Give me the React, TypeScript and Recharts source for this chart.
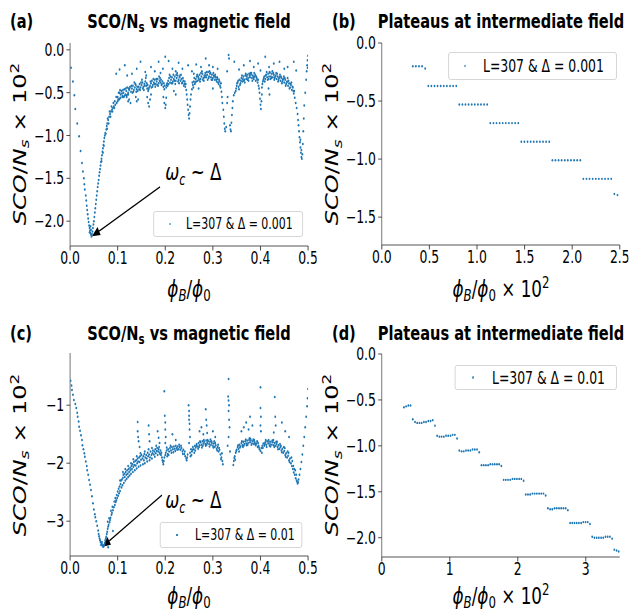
import React from 'react'
import { ScatterChart, Scatter, XAxis, YAxis, ReferenceLine, ReferenceDot } from 'recharts'

type Pt = [number, number]

// ---------- panel (a): L=307, Δ=0.001 ----------
const aLeftBranch: Pt[] = [
  [0.002,-0.21],[0.006,-0.37],[0.009,-0.53],[0.011,-0.69],[0.015,-0.86],[0.019,-1.01],[0.022,-1.18],[0.025,-1.32],
  [0.027,-1.42],[0.029,-1.5],[0.03,-1.57],[0.031,-1.63],[0.033,-1.7],[0.034,-1.76],[0.035,-1.82],[0.036,-1.87],
  [0.037,-1.92],[0.038,-1.97],[0.039,-2.01],[0.04,-2.05],[0.041,-2.08],[0.042,-2.11],[0.043,-2.14],[0.044,-2.16],
  [0.045,-2.18],[0.046,-2.15],[0.044,-2.1],[0.043,-2.06],[0.041,-2.13],
]
const aRightBranch: Pt[] = [
  [0.047,-2.12],[0.048,-2.08],[0.049,-2.04],[0.05,-2.0],[0.051,-1.95],[0.052,-1.9],[0.053,-1.85],[0.054,-1.8],
  [0.055,-1.75],[0.056,-1.7],[0.057,-1.65],[0.058,-1.6],[0.059,-1.56],[0.06,-1.52],[0.061,-1.47],[0.062,-1.43],
  [0.063,-1.39],[0.064,-1.35],[0.065,-1.31],[0.066,-1.27],[0.067,-1.23],[0.068,-1.19],[0.069,-1.15],[0.07,-1.11],
  [0.071,-1.07],[0.072,-1.03],[0.073,-1.0],[0.074,-0.97],[0.076,-0.93],[0.077,-0.89],[0.078,-0.86],[0.08,-0.82],
  [0.082,-0.78],[0.084,-0.75],[0.086,-0.72],[0.088,-0.7],[0.09,-0.68],[0.092,-0.66],[0.095,-0.64],[0.098,-0.62],
  [0.1,-0.6],[0.103,-0.58],[0.106,-0.56],[0.11,-0.55],[0.114,-0.54],[0.118,-0.53],[0.122,-0.52],
  [0.075,-0.98],[0.079,-0.8],[0.083,-0.72],[0.087,-0.66],[0.091,-0.62],[0.094,-0.6],[0.097,-0.55],[0.104,-0.5],
  [0.071,-1.12],[0.069,-1.2],[0.066,-1.3],[0.078,-0.92],[0.081,-0.86],[0.085,-0.78],[0.089,-0.72],[0.093,-0.68],
]
const aBand: Pt[] = [
  [0.100,-0.55],[0.102,-0.50],[0.104,-0.57],[0.106,-0.52],[0.108,-0.48],[0.110,-0.54],[0.112,-0.50],[0.114,-0.46],
  [0.116,-0.52],[0.118,-0.48],[0.120,-0.44],[0.122,-0.50],[0.124,-0.47],[0.126,-0.43],[0.128,-0.49],[0.130,-0.45],
  [0.132,-0.42],[0.134,-0.47],[0.136,-0.44],[0.138,-0.41],[0.140,-0.46],[0.142,-0.48],[0.144,-0.43],[0.146,-0.40],
  [0.148,-0.44],[0.150,-0.41],[0.152,-0.38],[0.154,-0.43],[0.156,-0.40],[0.158,-0.37],[0.160,-0.42],[0.162,-0.45],
  [0.164,-0.48],[0.166,-0.44],[0.168,-0.42],[0.170,-0.39],[0.172,-0.36],[0.174,-0.41],[0.176,-0.38],[0.178,-0.35],
  [0.180,-0.40],[0.182,-0.37],[0.184,-0.34],[0.186,-0.39],[0.188,-0.36],[0.190,-0.38],[0.192,-0.41],[0.194,-0.37],
  [0.196,-0.43],[0.198,-0.46],[0.202,-0.44],[0.204,-0.39],[0.206,-0.36],[0.208,-0.33],[0.210,-0.38],[0.212,-0.35],
  [0.214,-0.32],[0.216,-0.37],[0.218,-0.34],[0.220,-0.31],[0.222,-0.36],[0.224,-0.33],[0.226,-0.30],[0.228,-0.35],
  [0.230,-0.32],[0.232,-0.36],[0.234,-0.34],[0.236,-0.38],[0.238,-0.36],[0.240,-0.40],[0.242,-0.43],[0.244,-0.47],
  [0.256,-0.46],[0.258,-0.41],[0.260,-0.37],[0.262,-0.40],[0.264,-0.34],[0.266,-0.31],[0.268,-0.36],[0.270,-0.33],
  [0.272,-0.29],[0.274,-0.34],[0.276,-0.31],[0.278,-0.28],[0.280,-0.33],[0.282,-0.30],[0.284,-0.27],[0.286,-0.32],
  [0.288,-0.29],[0.290,-0.26],[0.292,-0.31],[0.294,-0.28],[0.296,-0.32],[0.298,-0.29],[0.300,-0.33],[0.302,-0.30],
  [0.304,-0.35],[0.306,-0.32],[0.308,-0.37],[0.310,-0.34],[0.312,-0.40],[0.314,-0.37],[0.316,-0.44],[0.318,-0.49],
  [0.348,-0.48],[0.350,-0.42],[0.352,-0.38],[0.354,-0.43],[0.356,-0.35],[0.358,-0.39],[0.360,-0.33],[0.362,-0.37],
  [0.364,-0.31],[0.366,-0.35],[0.368,-0.30],[0.370,-0.34],[0.372,-0.29],[0.374,-0.33],[0.376,-0.28],[0.378,-0.32],
  [0.380,-0.29],[0.382,-0.33],[0.384,-0.30],[0.386,-0.34],[0.388,-0.31],[0.390,-0.36],[0.392,-0.33],[0.394,-0.38],
  [0.396,-0.42],[0.404,-0.40],[0.406,-0.35],[0.408,-0.31],[0.410,-0.34],[0.412,-0.29],[0.414,-0.32],[0.416,-0.28],
  [0.418,-0.31],[0.420,-0.27],[0.422,-0.31],[0.424,-0.28],[0.426,-0.32],[0.428,-0.29],[0.430,-0.33],[0.432,-0.30],
  [0.434,-0.34],[0.436,-0.31],[0.438,-0.35],[0.440,-0.32],[0.442,-0.36],[0.444,-0.33],[0.446,-0.37],[0.448,-0.34],
  [0.450,-0.38],[0.452,-0.35],[0.454,-0.40],[0.456,-0.37],[0.458,-0.42],[0.460,-0.39],[0.462,-0.44],[0.464,-0.41],
  [0.466,-0.47],[0.468,-0.44],[0.470,-0.51],[0.472,-0.56],[0.474,-0.62],
]
const aBandInner: Pt[] = [
  [0.101,-0.58],[0.105,-0.47],[0.109,-0.51],[0.113,-0.55],[0.117,-0.45],[0.121,-0.52],[0.125,-0.45],[0.129,-0.42],
  [0.133,-0.49],[0.137,-0.40],[0.141,-0.43],[0.145,-0.46],[0.149,-0.38],[0.153,-0.45],[0.157,-0.42],[0.161,-0.39],
  [0.165,-0.46],[0.169,-0.37],[0.173,-0.43],[0.177,-0.40],[0.181,-0.34],[0.185,-0.42],[0.189,-0.33],[0.193,-0.40],
  [0.197,-0.39],[0.203,-0.41],[0.207,-0.40],[0.211,-0.31],[0.215,-0.39],[0.219,-0.36],[0.223,-0.29],[0.227,-0.37],
  [0.231,-0.30],[0.235,-0.39],[0.239,-0.42],[0.243,-0.40],[0.259,-0.44],[0.263,-0.38],[0.267,-0.29],[0.271,-0.35],
  [0.275,-0.27],[0.279,-0.35],[0.283,-0.32],[0.287,-0.26],[0.291,-0.33],[0.295,-0.27],[0.299,-0.35],[0.303,-0.31],
  [0.307,-0.35],[0.311,-0.38],[0.315,-0.42],[0.349,-0.45],[0.353,-0.36],[0.357,-0.41],[0.361,-0.30],[0.365,-0.36],
  [0.369,-0.28],[0.373,-0.35],[0.377,-0.30],[0.381,-0.27],[0.385,-0.32],[0.389,-0.29],[0.393,-0.35],[0.397,-0.45],
  [0.403,-0.44],[0.407,-0.33],[0.411,-0.30],[0.415,-0.35],[0.419,-0.26],[0.423,-0.33],[0.427,-0.27],[0.431,-0.31],
  [0.435,-0.28],[0.439,-0.33],[0.443,-0.31],[0.447,-0.35],[0.451,-0.33],[0.455,-0.38],[0.459,-0.36],[0.463,-0.40],
  [0.467,-0.43],[0.471,-0.48],
]
const aBandOuter: Pt[] = [
  [0.111,-0.47],[0.119,-0.55],[0.123,-0.45],[0.131,-0.50],[0.135,-0.38],[0.139,-0.49],[0.147,-0.47],[0.151,-0.35],
  [0.155,-0.47],[0.159,-0.33],[0.163,-0.41],[0.171,-0.44],[0.175,-0.34],[0.179,-0.43],[0.183,-0.41],[0.187,-0.31],
  [0.191,-0.35],[0.199,-0.42],[0.205,-0.42],[0.209,-0.29],[0.213,-0.39],[0.217,-0.29],[0.221,-0.40],[0.225,-0.27],
  [0.229,-0.39],[0.233,-0.29],[0.237,-0.33],[0.241,-0.37],[0.257,-0.38],[0.261,-0.33],[0.265,-0.37],[0.269,-0.31],
  [0.273,-0.37],[0.277,-0.25],[0.281,-0.36],[0.285,-0.30],[0.289,-0.35],[0.293,-0.25],[0.297,-0.35],[0.301,-0.27],
  [0.305,-0.29],[0.309,-0.32],[0.313,-0.35],[0.317,-0.39],[0.351,-0.39],[0.355,-0.46],[0.359,-0.36],[0.363,-0.34],
  [0.367,-0.38],[0.371,-0.31],[0.375,-0.36],[0.379,-0.27],[0.383,-0.36],[0.387,-0.27],[0.391,-0.31],[0.395,-0.35],
  [0.405,-0.37],[0.409,-0.37],[0.413,-0.26],[0.417,-0.34],[0.421,-0.34],[0.425,-0.25],[0.429,-0.35],[0.433,-0.27],
  [0.437,-0.37],[0.441,-0.29],[0.445,-0.39],[0.449,-0.31],[0.453,-0.42],[0.457,-0.33],[0.461,-0.45],[0.465,-0.38],
  [0.469,-0.48],
]
const aDips: Pt[] = [
  [0.122,-0.60],[0.124,-0.58],[0.127,-0.62],[0.138,-0.55],[0.140,-0.60],[0.143,-0.58],[0.162,-0.55],[0.164,-0.62],
  [0.166,-0.66],[0.168,-0.58],[0.170,-0.52],[0.196,-0.55],[0.198,-0.62],[0.200,-0.68],[0.201,-0.64],[0.202,-0.56],
  [0.218,-0.48],[0.222,-0.52],[0.245,-0.52],[0.246,-0.58],[0.247,-0.64],[0.248,-0.70],[0.249,-0.76],[0.250,-0.80],
  [0.251,-0.74],[0.252,-0.66],[0.253,-0.58],[0.254,-0.52],[0.270,-0.45],[0.300,-0.45],
  [0.319,-0.55],[0.320,-0.62],[0.322,-0.70],[0.323,-0.78],[0.324,-0.86],[0.325,-0.92],[0.326,-0.95],[0.328,-0.90],
  [0.330,-0.62],[0.331,-0.55],[0.336,-0.88],[0.337,-0.93],[0.338,-0.95],[0.339,-0.85],[0.340,-0.76],[0.341,-0.68],
  [0.342,-0.60],[0.344,-0.53],[0.346,-0.50],[0.398,-0.50],[0.399,-0.57],[0.400,-0.64],[0.401,-0.69],[0.402,-0.60],
  [0.403,-0.52],[0.417,-0.45],[0.419,-0.52],[0.476,-0.68],[0.478,-0.75],[0.479,-0.82],[0.480,-0.88],[0.481,-0.95],
  [0.482,-1.02],[0.483,-1.08],[0.484,-1.14],[0.485,-1.20],[0.486,-1.25],[0.487,-1.27],[0.488,-1.22],[0.489,-1.10],
  [0.490,-0.95],[0.491,-0.80],[0.492,-0.65],[0.494,-0.50],[0.496,-0.35],[0.497,-0.25],[0.498,-0.18],[0.499,-0.12],
  [0.500,-0.07],[0.484,-1.05],[0.486,-1.17],
]
const aOutliers: Pt[] = [
  [0.097,-0.28],[0.104,-0.23],[0.115,-0.18],[0.13,-0.28],[0.14,-0.22],[0.148,-0.14],[0.158,-0.26],[0.17,-0.2],
  [0.178,-0.25],[0.186,-0.14],[0.195,-0.22],[0.2,-0.08],[0.207,-0.13],[0.215,-0.22],[0.228,-0.15],[0.236,-0.22],
  [0.248,-0.18],[0.256,-0.25],[0.265,-0.17],[0.275,-0.2],[0.285,-0.1],[0.292,-0.18],[0.3,-0.2],[0.31,-0.22],
  [0.333,-0.06],[0.334,-0.1],[0.345,-0.14],[0.355,-0.23],[0.365,-0.18],[0.378,-0.13],[0.386,-0.2],[0.395,-0.16],
  [0.41,-0.08],[0.418,-0.2],[0.428,-0.16],[0.44,-0.14],[0.45,-0.22],[0.457,-0.2],[0.47,-0.14],[0.475,-0.24],
  [0.499,-0.21],[0.12,-0.3],[0.16,-0.3],[0.19,-0.27],[0.222,-0.25],[0.26,-0.28],[0.33,-0.25],[0.4,-0.24],
]

// ---------- panel (c): L=307, Δ=0.01 ----------
const cLeftBranch: Pt[] = [
  [0.001,-0.58],[0.003,-0.66],[0.004,-0.74],[0.006,-0.82],[0.008,-0.91],[0.011,-0.98],[0.013,-1.05],[0.015,-1.13],
  [0.016,-1.2],[0.018,-1.28],[0.019,-1.37],[0.021,-1.44],[0.023,-1.52],[0.025,-1.6],[0.026,-1.69],[0.028,-1.76],
  [0.03,-1.83],[0.031,-1.89],[0.033,-1.97],[0.035,-2.05],[0.036,-2.12],[0.038,-2.2],[0.04,-2.29],[0.042,-2.37],
  [0.044,-2.46],[0.046,-2.57],[0.048,-2.69],[0.05,-2.8],[0.052,-2.88],[0.053,-2.93],[0.055,-3.0],[0.057,-3.08],
  [0.059,-3.16],[0.06,-3.22],[0.061,-3.26],[0.062,-3.3],[0.063,-3.33],[0.064,-3.36],[0.066,-3.38],[0.067,-3.4],
  [0.068,-3.42],[0.069,-3.43],[0.07,-3.44],[0.065,-3.41],[0.067,-3.36],
]
const cRightBranch: Pt[] = [
  [0.071,-3.42],[0.072,-3.4],[0.073,-3.37],[0.074,-3.33],[0.075,-3.3],[0.076,-3.27],[0.077,-3.22],[0.078,-3.18],
  [0.079,-3.13],[0.08,-3.09],[0.081,-3.06],[0.083,-3.02],[0.084,-2.98],[0.085,-2.94],[0.087,-2.89],[0.088,-2.86],
  [0.09,-2.81],[0.092,-2.76],[0.094,-2.72],[0.096,-2.67],[0.097,-2.64],[0.099,-2.6],[0.101,-2.56],[0.103,-2.52],
  [0.105,-2.48],[0.108,-2.42],[0.11,-2.38],[0.113,-2.34],[0.116,-2.3],[0.119,-2.27],[0.122,-2.24],[0.125,-2.21],
  [0.128,-2.18],[0.132,-2.15],[0.136,-2.12],[0.14,-2.09],[0.144,-2.06],[0.148,-2.04],[0.153,-2.02],[0.157,-2.0],
  [0.162,-1.97],[0.167,-1.95],[0.172,-1.92],[0.178,-1.89],[0.184,-1.86],[0.189,-1.84],
  [0.082,-2.95],[0.086,-2.82],[0.089,-2.75],[0.093,-2.66],[0.095,-2.6],[0.098,-2.55],[0.1,-2.49],[0.102,-2.44],
  [0.104,-2.4],[0.106,-2.36],[0.107,-2.3],[0.109,-2.28],[0.111,-2.25],[0.112,-2.2],[0.114,-2.18],[0.115,-2.24],
  [0.117,-2.15],[0.118,-2.2],[0.12,-2.12],[0.121,-2.18],[0.123,-2.1],[0.124,-2.15],[0.126,-2.08],[0.127,-2.12],
  [0.129,-2.05],[0.13,-2.1],[0.131,-2.02],[0.133,-2.06],[0.134,-1.98],[0.135,-2.03],[0.137,-1.96],[0.138,-2.04],
  [0.139,-1.95],[0.141,-2.0],[0.142,-1.92],[0.143,-1.97],[0.145,-1.9],[0.146,-1.98],[0.147,-1.88],[0.149,-1.94],
  [0.15,-1.86],[0.152,-1.92],[0.154,-1.88],[0.155,-1.95],[0.156,-1.84],[0.158,-1.9],[0.16,-1.86],[0.161,-1.92],
  [0.163,-1.82],[0.164,-1.88],[0.166,-1.85],[0.168,-1.9],[0.169,-1.8],[0.171,-1.86],[0.173,-1.83],[0.174,-1.78],
  [0.176,-1.85],[0.177,-1.8],[0.179,-1.76],[0.18,-1.83],[0.182,-1.79],[0.183,-1.74],[0.185,-1.8],[0.186,-1.76],
  [0.188,-1.82],[0.19,-1.78],[0.191,-1.86],[0.192,-1.82],[0.193,-1.9],[0.194,-1.95],[0.195,-1.98],[0.196,-2.02],
  [0.197,-1.96],[0.198,-1.9],[0.2,-1.86],[0.08,-3.45],[0.079,-3.01],[0.09,-3.17],[0.105,-2.3],[0.111,-2.15],
  [0.116,-2.1],[0.122,-2.05],[0.128,-2.0],[0.133,-1.93],[0.14,-1.88],[0.148,-1.83],[0.157,-1.8],[0.165,-1.76],
  [0.172,-1.74],[0.181,-1.7],[0.187,-1.72],
]
const cBand: Pt[] = [
  [0.201,-1.82],[0.203,-1.78],[0.205,-1.84],[0.206,-1.76],[0.208,-1.8],[0.21,-1.74],[0.212,-1.78],[0.214,-1.72],
  [0.216,-1.76],[0.218,-1.71],[0.22,-1.75],[0.222,-1.7],[0.224,-1.74],[0.226,-1.71],[0.228,-1.76],[0.23,-1.72],
  [0.232,-1.77],[0.234,-1.74],[0.236,-1.8],[0.238,-1.77],[0.24,-1.84],[0.242,-1.88],[0.244,-1.92],[0.245,-1.95],
  [0.246,-1.9],[0.247,-1.85],[0.252,-1.82],[0.254,-1.76],[0.256,-1.8],[0.258,-1.72],[0.26,-1.76],[0.262,-1.7],
  [0.264,-1.73],[0.266,-1.67],[0.268,-1.71],[0.27,-1.65],[0.272,-1.69],[0.274,-1.64],[0.276,-1.68],[0.278,-1.62],
  [0.28,-1.66],[0.282,-1.63],[0.284,-1.67],[0.286,-1.61],[0.288,-1.65],[0.29,-1.62],[0.292,-1.67],[0.294,-1.63],
  [0.296,-1.68],[0.298,-1.65],[0.3,-1.7],[0.302,-1.66],[0.304,-1.72],[0.306,-1.69],[0.308,-1.75],[0.31,-1.72],
  [0.312,-1.8],[0.314,-1.77],[0.316,-1.85],[0.318,-1.9],[0.32,-1.96],[0.321,-2.02],[0.343,-2.03],[0.344,-1.96],
  [0.346,-1.88],[0.348,-1.82],[0.35,-1.77],[0.352,-1.72],[0.354,-1.75],[0.356,-1.68],[0.358,-1.71],[0.36,-1.65],
  [0.362,-1.69],[0.364,-1.63],[0.366,-1.67],[0.368,-1.62],[0.37,-1.66],[0.372,-1.61],[0.374,-1.65],[0.376,-1.6],
  [0.378,-1.64],[0.38,-1.61],[0.382,-1.66],[0.384,-1.62],[0.386,-1.67],[0.388,-1.64],[0.39,-1.69],[0.392,-1.66],
  [0.394,-1.72],[0.396,-1.7],[0.398,-1.76],[0.4,-1.79],[0.402,-1.74],[0.404,-1.7],[0.406,-1.66],[0.408,-1.7],
  [0.41,-1.64],[0.412,-1.68],[0.414,-1.62],[0.416,-1.66],[0.418,-1.63],[0.42,-1.67],[0.422,-1.63],[0.424,-1.68],
  [0.426,-1.64],[0.428,-1.69],[0.43,-1.65],[0.432,-1.7],[0.434,-1.67],[0.436,-1.72],[0.438,-1.69],[0.44,-1.75],
  [0.442,-1.72],[0.444,-1.78],[0.446,-1.75],[0.448,-1.82],[0.45,-1.79],[0.452,-1.86],[0.454,-1.83],[0.456,-1.9],
  [0.458,-1.87],[0.46,-1.95],[0.462,-1.92],[0.464,-2.0],[0.466,-2.05],[0.468,-2.1],[0.47,-2.16],[0.472,-2.2],
  [0.474,-2.26],[0.476,-2.3],[0.478,-2.35],[0.479,-2.33],[0.48,-2.28],[0.482,-2.2],[0.484,-2.1],[0.486,-1.98],
  [0.488,-1.85],[0.49,-1.7],[0.492,-1.55],[0.494,-1.38],[0.496,-1.2],[0.498,-1.02],[0.499,-0.88],[0.5,-0.72],
  [0.204,-1.88],[0.213,-1.82],[0.221,-1.79],[0.229,-1.68],[0.237,-1.84],[0.255,-1.86],[0.263,-1.78],[0.271,-1.72],
  [0.279,-1.7],[0.287,-1.68],[0.295,-1.59],[0.303,-1.62],[0.311,-1.68],[0.319,-1.83],[0.347,-1.94],[0.355,-1.8],
  [0.363,-1.72],[0.371,-1.69],[0.379,-1.58],[0.387,-1.6],[0.395,-1.65],[0.403,-1.82],[0.411,-1.6],[0.419,-1.7],
  [0.427,-1.6],[0.435,-1.63],[0.443,-1.7],[0.451,-1.74],[0.459,-1.82],[0.467,-1.96],[0.473,-2.12],
]
const cBandOuter: Pt[] = [
  [0.203,-1.73],[0.207,-1.86],[0.211,-1.70],[0.217,-1.81],[0.225,-1.77],[0.233,-1.70],[0.241,-1.80],[0.253,-1.88],
  [0.257,-1.77],[0.261,-1.82],[0.265,-1.70],[0.269,-1.75],[0.273,-1.62],[0.277,-1.73],[0.281,-1.60],[0.285,-1.70],
  [0.289,-1.60],[0.293,-1.71],[0.297,-1.62],[0.301,-1.73],[0.305,-1.65],[0.309,-1.78],[0.313,-1.74],[0.317,-1.93],
  [0.345,-1.91],[0.349,-1.79],[0.353,-1.69],[0.357,-1.73],[0.361,-1.62],[0.365,-1.70],[0.369,-1.59],[0.373,-1.68],
  [0.377,-1.57],[0.381,-1.68],[0.385,-1.59],[0.389,-1.67],[0.393,-1.62],[0.397,-1.73],[0.405,-1.74],[0.409,-1.67],
  [0.413,-1.72],[0.417,-1.60],[0.421,-1.71],[0.425,-1.61],[0.429,-1.72],[0.433,-1.63],[0.437,-1.76],[0.441,-1.67],
  [0.445,-1.81],[0.449,-1.72],[0.453,-1.89],[0.457,-1.80],[0.461,-1.98],[0.465,-1.90],[0.469,-2.05],[0.471,-2.10],
  [0.475,-2.20],[0.477,-2.32],
]
const cOutliers: Pt[] = [
  [0.142,-1.29],[0.142,-1.45],[0.143,-1.55],[0.144,-1.62],[0.146,-1.72],[0.165,-1.35],[0.166,-1.5],[0.167,-1.62],
  [0.184,-1.45],[0.186,-1.56],[0.188,-1.65],[0.198,-0.76],[0.199,-1.18],[0.2,-1.3],[0.2,-1.42],[0.201,-1.55],
  [0.2,-1.65],[0.215,-1.5],[0.222,-1.6],[0.249,-1.0],[0.25,-1.1],[0.25,-1.18],[0.25,-1.25],[0.251,-1.32],
  [0.251,-1.42],[0.252,-1.55],[0.25,-1.65],[0.272,-1.45],[0.276,-1.38],[0.28,-1.5],[0.285,-1.07],[0.286,-1.25],
  [0.287,-1.35],[0.288,-1.48],[0.3,-1.45],[0.305,-1.55],[0.333,-0.55],[0.332,-0.85],[0.333,-0.92],[0.334,-1.0],
  [0.333,-1.1],[0.334,-1.25],[0.335,-1.38],[0.333,-1.55],[0.331,-1.7],[0.336,-1.8],[0.36,-1.45],[0.365,-1.38],
  [0.37,-1.3],[0.375,-1.42],[0.378,-1.2],[0.383,-1.35],[0.4,-0.69],[0.4,-1.05],[0.401,-1.2],[0.4,-1.35],
  [0.401,-1.45],[0.43,-0.86],[0.431,-1.2],[0.432,-1.35],[0.428,-1.47],[0.445,-1.3],[0.452,-1.45],[0.46,-1.55],
]

// ---------- panels (b), (d): plateaus, x in units of 10^-2 ----------
const fluxGrid: number[] = [
  0.326,0.358,0.391,0.423,0.456,0.489,0.521,0.554,0.586,0.619,0.651,0.684,0.717,0.749,0.782,0.814,0.847,0.879,0.912,0.945,
  0.977,1.010,1.042,1.075,1.107,1.140,1.173,1.205,1.238,1.270,1.303,1.335,1.368,1.401,1.433,1.466,1.498,1.531,1.564,1.596,
  1.629,1.661,1.694,1.726,1.759,1.792,1.824,1.857,1.889,1.922,1.954,1.987,2.020,2.052,2.085,2.117,2.150,2.182,2.215,2.248,
  2.280,2.313,2.345,2.378,2.410,2.443,2.476,2.508,2.541,2.573,2.606,2.638,2.671,2.704,2.736,2.769,2.801,2.834,2.866,2.899,
  2.932,2.964,2.997,3.029,3.062,3.094,3.127,3.160,3.192,3.225,3.257,3.290,3.322,3.355,3.388,3.420,3.453,3.485,
]
const bSco: number[] = [
  -0.20,-0.20,-0.20,-0.20,-0.22,
  -0.37,-0.37,-0.37,-0.37,-0.37,-0.37,-0.37,-0.37,-0.37,-0.37,
  -0.53,-0.53,-0.53,-0.53,-0.53,-0.53,-0.53,-0.53,-0.53,-0.53,
  -0.69,-0.69,-0.69,-0.69,-0.69,-0.69,-0.69,-0.69,-0.69,-0.69,
  -0.85,-0.85,-0.85,-0.85,-0.85,-0.85,-0.85,-0.85,-0.85,-0.85,
  -1.01,-1.01,-1.01,-1.01,-1.01,-1.01,-1.01,-1.01,-1.01,-1.01,
  -1.17,-1.17,-1.17,-1.17,-1.17,-1.17,-1.17,-1.17,-1.17,-1.17,
  -1.30,-1.31,
]
const dSco: number[] = [
  -0.58,-0.57,-0.56,-0.56,-0.71,
  -0.74,-0.75,-0.75,-0.75,-0.74,-0.74,-0.73,-0.73,-0.72,-0.78,
  -0.89,-0.90,-0.90,-0.90,-0.89,-0.89,-0.89,-0.88,-0.88,-0.92,
  -1.05,-1.06,-1.06,-1.05,-1.05,-1.05,-1.04,-1.04,-1.04,-1.07,
  -1.21,-1.21,-1.21,-1.21,-1.20,-1.20,-1.20,-1.20,-1.20,-1.22,
  -1.37,-1.37,-1.37,-1.37,-1.36,-1.36,-1.36,-1.36,-1.36,-1.38,
  -1.53,-1.53,-1.53,-1.52,-1.52,-1.52,-1.52,-1.52,-1.52,-1.54,
  -1.68,-1.69,-1.69,-1.68,-1.68,-1.68,-1.68,-1.68,-1.68,-1.70,
  -1.84,-1.84,-1.84,-1.84,-1.84,-1.84,-1.83,-1.83,-1.83,-1.85,
  -1.99,-2.00,-2.00,-2.00,-2.00,-2.00,-1.99,-1.99,-1.99,-2.01,
  -2.13,-2.14,-2.15,
]

const fieldTicks = [0, 0.1, 0.2, 0.3, 0.4, 0.5]
const aYTicks = [0, -0.5, -1, -1.5, -2]
const bXTicks = [0, 0.5, 1, 1.5, 2, 2.5]
const bYTicks = [0, -0.5, -1, -1.5]
const cYTicks = [-1, -2, -3]
const dXTicks = [0, 1, 2, 3]
const dYTicks = [0, -0.5, -1, -1.5, -2]

// the reference figure is squeezed horizontally; draw at natural width, then squeeze
const SQ = 0.73
const FIG_W = 631 / SQ
const BLUE = '#1f77b4'
const FONT = '"DejaVu Sans", sans-serif'
const YW = 75
const XH = 40
const PAD = 16

const minus = (s: string) => s.replace('-', '\u2212')
const fmt1 = (v: number) => minus(v.toFixed(1))
const fmt0 = (v: number) => minus(v.toFixed(0))
const toRows = (...sets: Pt[][]) => sets.flat().map(([x, y]) => ({ x, y }))
const zipRows = (xs: number[], ys: number[]) => ys.map((y, i) => ({ x: xs[i], y }))

const dotShape = (r: number) => (p: any) => <circle cx={p.cx} cy={p.cy} r={r} fill={BLUE} />

const arrowShape = (p: any) => {
  const { x1, y1, x2, y2 } = p
  const a = Math.atan2(y2 - y1, x2 - x1)
  const L = 11, W = 4.5
  const bx = x2 - L * Math.cos(a), by = y2 - L * Math.sin(a)
  const pts = [
    [x2, y2],
    [bx + W * Math.sin(a), by - W * Math.cos(a)],
    [bx - W * Math.sin(a), by + W * Math.cos(a)],
  ].map(q => q.join(',')).join(' ')
  return (
    <g>
      <line x1={x1} y1={y1} x2={bx} y2={by} stroke="#000" strokeWidth={1.4} />
      <polygon points={pts} fill="#000" />
    </g>
  )
}

const noteShape = (p: any) => (
  <text x={p.cx} y={p.cy} fontSize={23} fontFamily={FONT} fill="#000">
    <tspan fontStyle="italic">ω</tspan>
    <tspan fontStyle="italic" fontSize={15} dy={5}>c</tspan>
    <tspan dy={-5}> ~ Δ</tspan>
  </text>
)

const tickStyle = { fill: '#000', fontSize: 17, fontFamily: FONT }
const spine = { stroke: '#555', strokeWidth: 1.1 }

interface PanelProps {
  box: [number, number, number, number] // plot rect in picture px
  xDomain: [number, number]
  yDomain: [number, number]
  xTicks: number[]
  yTicks: number[]
  xFmt: (v: number) => string
  yFmt: (v: number) => string
  rows: { x: number; y: number }[]
  r: number
  arrow?: [Pt, Pt]
  note?: Pt
}

function Panel({ box, xDomain, yDomain, xTicks, yTicks, xFmt, yFmt, rows, r, arrow, note }: PanelProps) {
  const [l, t, rr, b] = box
  const pw = (rr - l) / SQ
  const ph = b - t
  return (
    <div style={{ position: 'absolute', left: l / SQ - YW, top: t - PAD }}>
      <ScatterChart width={YW + pw + 12} height={PAD + ph + XH} margin={{ top: PAD, right: 12, bottom: 0, left: 0 }}>
        <XAxis type="number" dataKey="x" domain={xDomain} ticks={xTicks} tickFormatter={xFmt}
          allowDataOverflow height={XH} tick={tickStyle} tickSize={4.5} tickMargin={1.5}
          axisLine={spine} tickLine={{ stroke: '#333' }} interval={0} />
        <YAxis type="number" dataKey="y" domain={yDomain} ticks={yTicks} tickFormatter={yFmt}
          allowDataOverflow width={YW} tick={tickStyle} tickSize={5} tickMargin={3}
          axisLine={spine} tickLine={{ stroke: '#333' }} interval={0} />
        <XAxis xAxisId="top" orientation="top" type="number" domain={xDomain} allowDataOverflow
          height={0} tick={false} tickLine={false} axisLine={spine} />
        <YAxis yAxisId="right" orientation="right" type="number" domain={yDomain} allowDataOverflow
          width={0} tick={false} tickLine={false} axisLine={spine} />
        <Scatter data={rows} shape={dotShape(r)} isAnimationActive={false} />
        {arrow && (
          <ReferenceLine segment={[{ x: arrow[0][0], y: arrow[0][1] }, { x: arrow[1][0], y: arrow[1][1] }]}
            shape={arrowShape} ifOverflow="visible" />
        )}
        {note && <ReferenceDot x={note[0]} y={note[1]} r={0} shape={noteShape} ifOverflow="visible" />}
      </ScatterChart>
    </div>
  )
}

const abs = (x: number, y: number, extra: React.CSSProperties = {}): React.CSSProperties => ({
  position: 'absolute', left: x / SQ, top: y, transform: 'translate(-50%, -50%)',
  whiteSpace: 'nowrap', lineHeight: 1, fontFamily: FONT, color: '#000', ...extra,
})
const subSt: React.CSSProperties = { fontSize: '0.7em', verticalAlign: '-0.3em', lineHeight: 0 }
const supSt: React.CSSProperties = { fontSize: '0.7em', verticalAlign: '0.55em', lineHeight: 0 }

function Title({ x, y, letter, children }: { x: number; y: number; letter: [number, string]; children: React.ReactNode }) {
  return (
    <>
      <div style={{ ...abs(letter[0], y, { fontWeight: 'bold', fontSize: 20 }), transform: 'translate(0, -50%)' }}>{letter[1]}</div>
      <div style={abs(x, y, { fontWeight: 'bold', fontSize: 20 })}>{children}</div>
    </>
  )
}

const YLabel = ({ x, y }: { x: number; y: number }) => (
  <div style={{ ...abs(x, y, { fontSize: 24 }), transform: 'translate(-50%, -50%) rotate(-90deg)' }}>
    <i>SCO</i>/<i>N</i><span style={subSt}><i>s</i></span> × 10<span style={supSt}>2</span>
  </div>
)
const XLabel = ({ x, y, scaled }: { x: number; y: number; scaled?: boolean }) => (
  <div style={abs(x, y, { fontSize: 23 })}>
    <i>ϕ</i><span style={subSt}><i>B</i></span>/<i>ϕ</i><span style={subSt}>0</span>
    {scaled && <> × 10<span style={supSt}>2</span></>}
  </div>
)

function LegendBox({ box, dotX, textX, fontSize, label }: { box: [number, number, number, number]; dotX: number; textX: number; fontSize: number; label: string }) {
  const [l, t, r, b] = box
  return (
    <>
      <div style={{ position: 'absolute', left: l / SQ, top: t, width: (r - l) / SQ, height: b - t,
        border: '1px solid #d0d0d0', borderRadius: 3, background: 'rgba(255,255,255,0.8)', boxSizing: 'border-box' }} />
      <div style={{ position: 'absolute', left: dotX / SQ - 1.2, top: (t + b) / 2 - 1.2, width: 2.4, height: 2.4,
        borderRadius: '50%', background: BLUE }} />
      <div style={{ ...abs(textX, (t + b) / 2, { fontSize }), transform: 'translate(0, -50%)' }}>{label}</div>
    </>
  )
}

export default function App() {
  const aRows = toRows(aLeftBranch, aRightBranch, aBand, aBandInner, aBandOuter, aDips, aOutliers)
  const cRows = toRows(cLeftBranch, cRightBranch, cBand, cBandOuter, cOutliers)
  const bRows = zipRows(fluxGrid, bSco)
  const dRows = zipRows(fluxGrid, dSco)

  const boxA: [number, number, number, number] = [70, 43, 308, 246]
  const boxB: [number, number, number, number] = [382, 43, 620, 245]
  const boxC: [number, number, number, number] = [70, 353, 308, 556]
  const boxD: [number, number, number, number] = [382, 354, 620, 557]

  return (
    <div style={{ position: 'absolute', left: 0, top: 0, width: FIG_W, height: 614, background: '#fff',
      transform: `scaleX(${SQ})`, transformOrigin: '0 0', fontFamily: FONT }}>
      <Panel box={boxA} xDomain={[0, 0.5]} yDomain={[-2.29, 0.08]} xTicks={fieldTicks} yTicks={aYTicks}
        xFmt={fmt1} yFmt={fmt1} rows={aRows} r={1.25}
        arrow={[[0.189, -1.6], [0.046, -2.175]]} note={[0.2, -1.52]} />
      <Panel box={boxB} xDomain={[0, 2.5]} yDomain={[-1.74, 0]} xTicks={bXTicks} yTicks={bYTicks}
        xFmt={fmt1} yFmt={fmt1} rows={bRows} r={1.2} />
      <Panel box={boxC} xDomain={[0, 0.5]} yDomain={[-3.6, -0.1]} xTicks={fieldTicks} yTicks={cYTicks}
        xFmt={fmt1} yFmt={fmt0} rows={cRows} r={1.25}
        arrow={[[0.193, -2.55], [0.068, -3.44]]} note={[0.2, -2.78]} />
      <Panel box={boxD} xDomain={[0, 3.5]} yDomain={[-2.21, 0]} xTicks={dXTicks} yTicks={dYTicks}
        xFmt={fmt0} yFmt={fmt1} rows={dRows} r={1.2} />

      <Title x={189} y={21} letter={[10, '(a)']}>SCO/N<span style={subSt}>s</span> vs magnetic field</Title>
      <Title x={501} y={21} letter={[332, '(b)']}>Plateaus at intermediate field</Title>
      <Title x={189} y={333} letter={[10, '(c)']}>SCO/N<span style={subSt}>s</span> vs magnetic field</Title>
      <Title x={501} y={333} letter={[332, '(d)']}>Plateaus at intermediate field</Title>

      <YLabel x={20} y={144} />
      <YLabel x={332} y={144} />
      <YLabel x={20} y={455} />
      <YLabel x={332} y={455} />
      <XLabel x={189} y={289} />
      <XLabel x={501} y={289} scaled />
      <XLabel x={189} y={596} />
      <XLabel x={501} y={596} scaled />

      <LegendBox box={[153, 211, 303, 237]} dotX={170} textX={186} fontSize={15} label="L=307 & Δ = 0.001" />
      <LegendBox box={[448, 52, 617, 80]} dotX={465} textX={483} fontSize={17} label="L=307 & Δ = 0.001" />
      <LegendBox box={[160, 522, 302, 548]} dotX={177} textX={195} fontSize={15} label="L=307 & Δ = 0.01" />
      <LegendBox box={[455, 365, 617, 390]} dotX={473} textX={492} fontSize={17} label="L=307 & Δ = 0.01" />
    </div>
  )
}
